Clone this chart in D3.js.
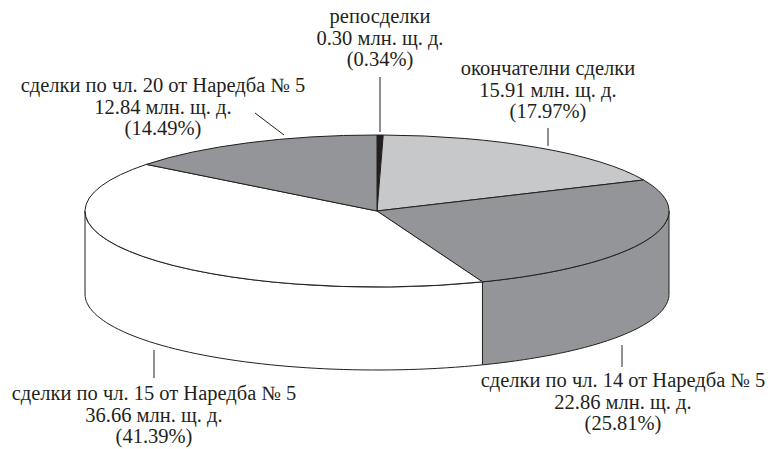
<!DOCTYPE html>
<html lang="bg">
<head>
<meta charset="UTF-8">
<title>Сделки</title>
<style>
  body { margin: 0; background: #fff; }
</style>
</head>
<body>
<svg id="chart" width="770" height="449"></svg>
<script src="https://d3js.org/d3.v7.min.js"></script>
<script>
// data, clockwise from 12 o'clock
var names = ["репосделки", "окончателни сделки", "сделки по чл. 14 от Наредба № 5",
             "сделки по чл. 15 от Наредба № 5", "сделки по чл. 20 от Наредба № 5"];
var volumes = [0.30, 15.91, 22.86, 36.66, 12.84];
var shares = [0.34, 17.97, 25.81, 41.39, 14.49];
var colors = ["#231f20", "#c7c8ca", "#939598", "#ffffff", "#939598"];

// where each label sits (text centre x, first baseline y) and its leader line
var labelPos = [
    {x: 380, y: 23,  line: [[380, 77], [380, 132]]},
    {x: 548, y: 75,  line: [[548, 128], [548, 146]]},
    {x: 623, y: 387, line: [[622, 345], [622, 367]]},
    {x: 154, y: 400, line: [[154, 350], [154, 378]]},
    {x: 163, y: 92,  line: [[255, 113], [284, 135]]}
];

var cx = 377, cy = 211, rx = 292, ry = 76, depth = 83;
var ink = "#231f20";

var svg = d3.select("#chart");

var pie = d3.pie().sort(null).value(function(d){ return d; });
var arcs = pie(shares);

// point on the top ellipse for a pie angle (0 = top, clockwise)
function pt(a, dy) {
    return [cx + rx * Math.sin(a), cy - ry * Math.cos(a) + (dy || 0)];
}

// side walls, only the front half (angles between PI/2 and 3PI/2) is visible
var sides = svg.append("g");
arcs.forEach(function(d, i){
    var a0 = Math.max(d.startAngle, Math.PI / 2),
        a1 = Math.min(d.endAngle, 3 * Math.PI / 2);
    if (a1 <= a0) return;
    var n = 60, top = [], bottom = [];
    for (var k = 0; k <= n; k++) {
        var a = a0 + (a1 - a0) * k / n;
        top.push(pt(a));
        bottom.push(pt(a, depth));
    }
    var pts = top.concat(bottom.reverse());
    sides.append("path")
        .attr("d", d3.line()(pts) + "Z")
        .attr("fill", colors[i])
        .attr("stroke", ink)
        .attr("stroke-width", 1)
        .attr("stroke-linejoin", "round");
});

// top face: normal d3 arcs squashed into an ellipse
var arc = d3.arc().innerRadius(0).outerRadius(rx);
svg.append("g")
    .attr("transform", "translate(" + cx + "," + cy + ") scale(1," + (ry / rx) + ")")
  .selectAll("path")
  .data(arcs)
  .join("path")
    .attr("d", arc)
    .attr("fill", function(d, i){ return colors[i]; })
    .attr("stroke", ink)
    .attr("stroke-width", 1)
    .attr("vector-effect", "non-scaling-stroke")
    .attr("stroke-linejoin", "round");

// labels
var lab = svg.append("g");
names.forEach(function(nm, i){
    var p = labelPos[i];
    lab.append("path")
        .attr("d", d3.line()(p.line))
        .attr("stroke", ink)
        .attr("stroke-width", 1)
        .attr("fill", "none");
    var t = lab.append("text")
        .attr("x", p.x)
        .attr("y", p.y)
        .attr("text-anchor", "middle")
        .attr("font-family", "'Liberation Serif', 'DejaVu Serif', serif")
        .attr("font-size", 20.5)
        .attr("fill", ink);
    var lines = [nm, volumes[i].toFixed(2) + " млн. щ. д.", "(" + shares[i].toFixed(2) + "%)"];
    lines.forEach(function(s, k){
        t.append("tspan")
            .attr("x", p.x)
            .attr("dy", k === 0 ? 0 : 21.5)
            .text(s);
    });
});
</script>
</body>
</html>
